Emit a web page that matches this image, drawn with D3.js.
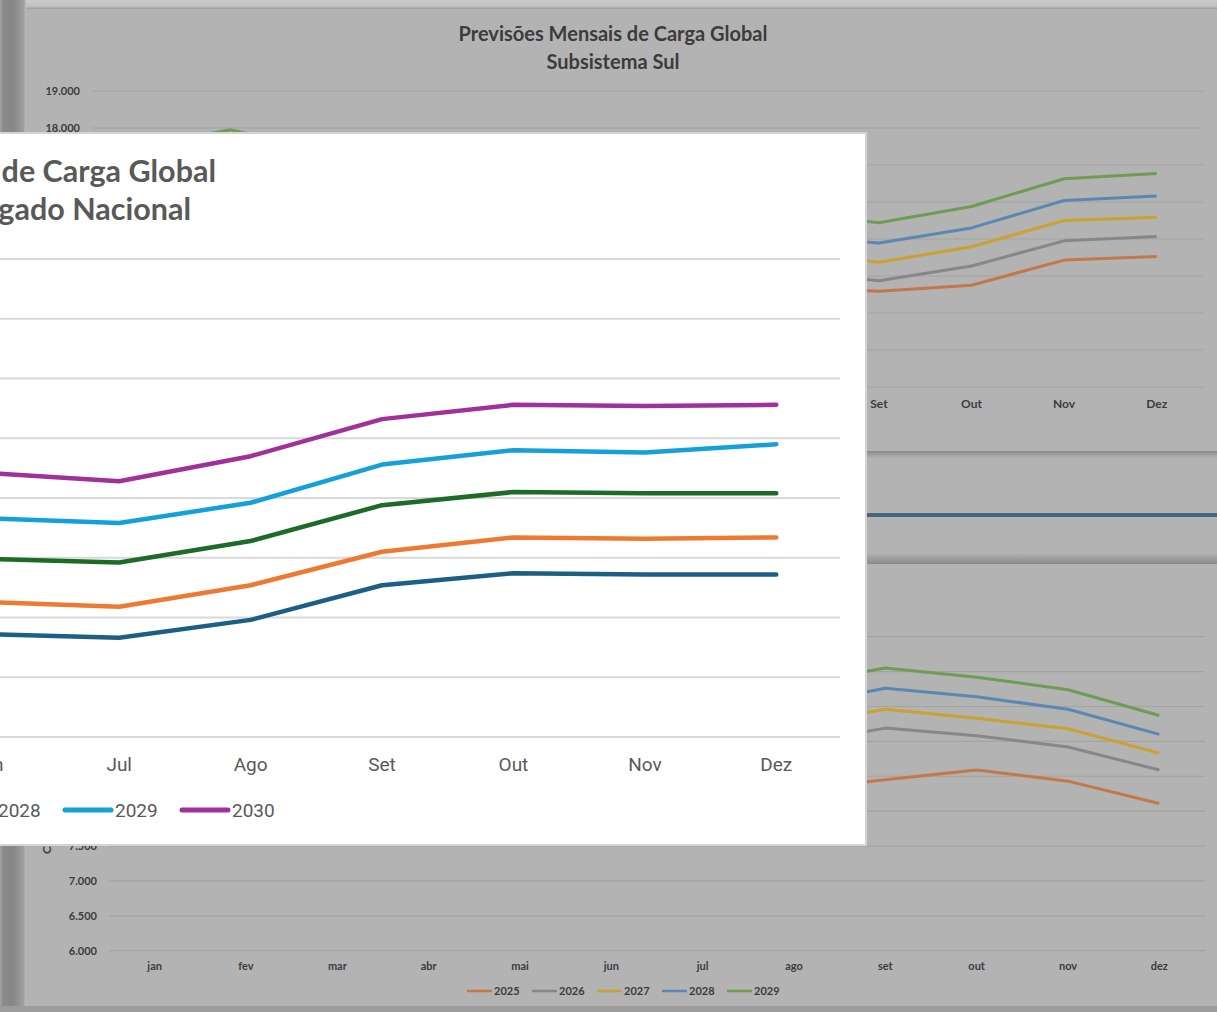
<!DOCTYPE html>
<html><head><meta charset="utf-8">
<script src="https://cdn.jsdelivr.net/npm/d3@7"></script>
<style>html,body{margin:0;padding:0;background:#b3b3b3;overflow:hidden}</style>
</head><body>
<svg id="c" width="1217" height="1012"></svg>
<script>
// ---------------- DATA ----------------
const monthsCap = ["Jan","Fev","Mar","Abr","Mai","Jun","Jul","Ago","Set","Out","Nov","Dez"];
const monthsLow = ["jan","fev","mar","abr","mai","jun","jul","ago","set","out","nov","dez"];

// Chart behind (top): Subsistema Sul, MWmed
const sulYears = ["2025","2026","2027","2028","2029"];
const sul2025 = [15600,16100,15500,14000,13400,13700,13900,13700,13590,13750,14430,14530];
const sul2026 = [16100,16700,16000,14500,13900,14200,14400,14150,13870,14270,14950,15070];
const sul2027 = [16600,17200,16500,15000,14400,14700,14900,14620,14370,14790,15500,15590];
const sul2028 = [17100,17600,17000,15500,14900,15200,15400,15080,14890,15300,16040,16160];
const sul2029 = [17500,17950,17400,16000,15400,15700,15900,15710,15440,15880,16630,16770];
const sulTicks = [11000,12000,13000,14000,15000,16000,17000,18000,19000];

// Chart behind (bottom): another subsystem, MWmed
const botYears = ["2025","2026","2027","2028","2029"];
const bot2025 = [8600,8700,8750,8600,8300,8050,7950,8310,8450,8590,8430,8110];
const bot2026 = [9100,9250,9300,9150,8850,8600,8550,8960,9190,9080,8920,8590];
const bot2027 = [9400,9550,9600,9450,9150,8900,8850,9230,9460,9330,9180,8830];
const bot2028 = [9700,9850,9900,9750,9450,9200,9150,9510,9760,9640,9460,9100];
const bot2029 = [10000,10150,10200,10050,9750,9500,9450,9820,10050,9920,9740,9370];
const botTicks = [6000,6500,7000,7500,8000,8500,9000,9500,10000,10500];

// Front chart: Sistema Interligado Nacional, MWmed
const sinYears = ["2026","2027","2028","2029","2030"];
const sin2026 = [83500,85000,84800,82500,79800,78600,78300,79800,82700,83700,83600,83600];
const sin2027 = [86200,87800,87600,85200,82400,81300,80900,82700,85500,86700,86600,86700];
const sin2028 = [89800,91300,91200,88800,86000,84900,84600,86400,89400,90500,90400,90400];
const sin2029 = [93200,94800,94600,92300,89500,88300,87900,89600,92800,94000,93800,94500];
const sin2030 = [97000,98600,98400,96000,93300,92100,91400,93500,96600,97800,97700,97800];
const sinTicks = [70000,75000,80000,85000,90000,95000,100000,105000,110000];

// ---------------- STYLE ----------------
const grayColors = ["#c2784a","#878787","#caa231","#5c87b2","#6f9b56"];
const sinColors  = ["#1b5f85","#ee7a31","#1c6b27","#14a0d8","#a1309a"];
const grayText = "#3c3c3c";
const fmt = d3.formatLocale({decimal:",",thousands:".",grouping:[3],currency:["R$ ",""]}).format(",d");

const P = {x0:-20, y0:133, x1:866, y1:845};

const svg = d3.select("#c");
const defs = svg.append("defs");
function grad(id, x2, y2, stops){
  const g = defs.append("linearGradient").attr("id",id).attr("x1",0).attr("y1",0).attr("x2",x2).attr("y2",y2);
  stops.forEach(s=>g.append("stop").attr("offset",s[0]).attr("stop-color",s[1]));
}
grad("leftStrip",1,0,[[0,"#a2a2a2"],[0.12,"#8a8a8a"],[0.5,"#878787"],[0.9,"#9e9e9e"],[1,"#bdbdbd"]]);
grad("topStrip",0,1,[[0,"#cbcbcb"],[0.7,"#c0c0c0"],[1,"#9c9c9c"]]);
grad("shadowDown",0,1,[[0,"#8a8a8a"],[1,"#b3b3b3"]]);
grad("shadowUp",0,1,[[0,"#b3b3b3"],[0.6,"#9a9a9a"],[1,"#888888"]]);

svg.append("rect").attr("x",0).attr("y",0).attr("width",1217).attr("height",1012).attr("fill","#b3b3b3");

function grayChart(cfg){
  const g = svg.append("g");
  const x = d3.scaleBand().domain(cfg.months).range(cfg.xr);
  const y = d3.scaleLinear().domain(cfg.yd).range(cfg.yr);
  const cx = m => x(m) + x.bandwidth()/2;
  const font = "Lato, 'Open Sans', sans-serif";
  g.append("g").selectAll("line").data(cfg.ticks).join("line")
    .attr("x1",cfg.xr[0]).attr("x2",cfg.xr[1])
    .attr("y1",d=>y(d)).attr("y2",d=>y(d))
    .attr("stroke","#a3a3a3").attr("stroke-width",1.2);
  g.append("g").selectAll("text").data(cfg.ticks).join("text")
    .attr("x",cfg.xr[0]-12).attr("y",d=>y(d)+4)
    .attr("text-anchor","end").attr("font-family",font)
    .attr("font-weight",700).attr("font-size",11).attr("fill",grayText)
    .text(d=>fmt(d));
  g.append("g").selectAll("text").data(cfg.months).join("text")
    .attr("x",d=>cx(d)).attr("y",cfg.yr[0]+cfg.xLabOff)
    .attr("text-anchor","middle").attr("font-family",font)
    .attr("font-weight",700).attr("font-size",cfg.xFont).attr("fill",grayText)
    .text(d=>d);
  const line = d3.line().x((d,i)=>cx(cfg.months[i])).y(d=>y(d));
  cfg.series.forEach((s,i)=>{
    g.append("path").datum(s).attr("d",line).attr("fill","none")
      .attr("stroke",grayColors[i]).attr("stroke-width",3).attr("stroke-linejoin","round");
  });
  if(cfg.title){
    cfg.title.forEach((t,i)=>g.append("text").attr("x",cfg.titleX).attr("y",cfg.titleY+i*28)
      .attr("text-anchor","middle").attr("font-family",font)
      .attr("font-weight",700).attr("font-size",20).attr("fill",grayText).text(t));
  }
  if(cfg.legendY){
    const lg = g.append("g");
    cfg.years.forEach((yr,i)=>{
      const x0 = cfg.legendX + i*65;
      lg.append("line").attr("x1",x0).attr("x2",x0+25).attr("y1",cfg.legendY).attr("y2",cfg.legendY)
        .attr("stroke",grayColors[i]).attr("stroke-width",2.5);
      lg.append("text").attr("x",x0+27).attr("y",cfg.legendY+4)
        .attr("font-family",font).attr("font-weight",700)
        .attr("font-size",11).attr("fill",grayText).text(yr);
    });
  }
  if(cfg.yTitle){
    g.append("text").attr("transform",`translate(${cfg.yTitleX},${cfg.yTitleY}) rotate(-90)`)
      .attr("text-anchor","start").attr("font-family",font)
      .attr("font-weight",700).attr("font-size",12).attr("fill",grayText).text(cfg.yTitle);
  }
  return g;
}

// top chart (Sul)
grayChart({
  months: monthsCap, xr:[92,1203], yd:[11000,19000], yr:[387,91], ticks: sulTicks,
  series:[sul2025,sul2026,sul2027,sul2028,sul2029], years: sulYears,
  xLabOff:21, xFont:12,
  title:["Previsões Mensais de Carga Global","Subsistema Sul"], titleX:613, titleY:41,
  legendY:430, legendX:470
});

// middle band between the two gray charts
svg.append("rect").attr("x",25).attr("y",451).attr("width",1192).attr("height",7).attr("fill","url(#shadowDown)");
svg.append("rect").attr("x",25).attr("y",553).attr("width",1192).attr("height",11).attr("fill","url(#shadowUp)");
svg.append("rect").attr("x",25).attr("y",513).attr("width",1192).attr("height",4).attr("fill","#43677f");

// bottom chart
grayChart({
  months: monthsLow, xr:[109,1205], yd:[6000,10500], yr:[950.7,636.7], ticks: botTicks,
  series:[bot2025,bot2026,bot2027,bot2028,bot2029], years: botYears,
  xLabOff:19, xFont:11,
  legendY:991, legendX:467,
  yTitle:"Carga Global (MWmed)", yTitleX:51, yTitleY:854
});

// frame strips
svg.append("rect").attr("x",0).attr("y",0).attr("width",1217).attr("height",9).attr("fill","url(#topStrip)");
svg.append("rect").attr("x",0).attr("y",0).attr("width",26).attr("height",1012).attr("fill","url(#leftStrip)");
svg.append("rect").attr("x",0).attr("y",1006).attr("width",1217).attr("height",6).attr("fill","#9b9b9b");

// ---------------- FRONT WHITE CHART (SIN) ----------------
defs.append("clipPath").attr("id","panelClip").append("rect")
  .attr("x",P.x0).attr("y",P.y0).attr("width",P.x1-P.x0).attr("height",P.y1-P.y0);
svg.append("rect").attr("x",P.x0).attr("y",P.y0-1).attr("width",P.x1-P.x0+1).attr("height",P.y1-P.y0+2)
  .attr("fill","#d4d4d4");
svg.append("rect").attr("x",P.x0).attr("y",P.y0+1).attr("width",P.x1-P.x0-1).attr("height",P.y1-P.y0-2)
  .attr("fill","#ffffff");

const fg = svg.append("g").attr("clip-path","url(#panelClip)");
const sx = d3.scaleBand().domain(monthsCap).range([-735,842]);
const scx = m => sx(m) + sx.bandwidth()/2;
const sy = d3.scaleLinear().domain([70000,110000]).range([737,259]);

fg.append("g").selectAll("line").data(sinTicks).join("line")
  .attr("x1",-735).attr("x2",840).attr("y1",d=>sy(d)).attr("y2",d=>sy(d))
  .attr("stroke","#d9d9d9").attr("stroke-width",2);

fg.append("g").selectAll("text").data(monthsCap).join("text")
  .attr("x",d=>scx(d)).attr("y",771)
  .attr("text-anchor","middle").attr("font-family","Roboto, 'Open Sans', sans-serif")
  .attr("font-size",19).attr("fill","#595959").text(d=>d);

const sline = d3.line().x((d,i)=>scx(monthsCap[i])).y(d=>sy(d));
[sin2026,sin2027,sin2028,sin2029,sin2030].forEach((s,i)=>{
  fg.append("path").datum(s).attr("d",sline).attr("fill","none")
    .attr("stroke",sinColors[i]).attr("stroke-width",4.5)
    .attr("stroke-linejoin","round").attr("stroke-linecap","round");
});

// title (left part runs past the window edge)
fg.append("text").attr("x",216).attr("y",182).attr("text-anchor","end")
  .attr("font-family","Lato, 'Open Sans', sans-serif").attr("font-weight",700)
  .attr("font-size",30.5).attr("fill","#595959").text("Previsões Mensais de Carga Global");
fg.append("text").attr("x",191).attr("y",220).attr("text-anchor","end")
  .attr("font-family","Lato, 'Open Sans', sans-serif").attr("font-weight",700)
  .attr("font-size",30.5).attr("fill","#595959").text("Sistema Interligado Nacional");

// legend
const lg = fg.append("g");
sinYears.forEach((yr,i)=>{
  const x0 = 63 + (i-3)*117;
  lg.append("line").attr("x1",x0+2).attr("x2",x0+48).attr("y1",810).attr("y2",810)
    .attr("stroke",sinColors[i]).attr("stroke-width",5).attr("stroke-linecap","round");
  lg.append("text").attr("x",x0+52).attr("y",817)
    .attr("font-family","Roboto, 'Open Sans', sans-serif").attr("font-size",19)
    .attr("fill","#595959").text(yr);
});
</script></body></html>
